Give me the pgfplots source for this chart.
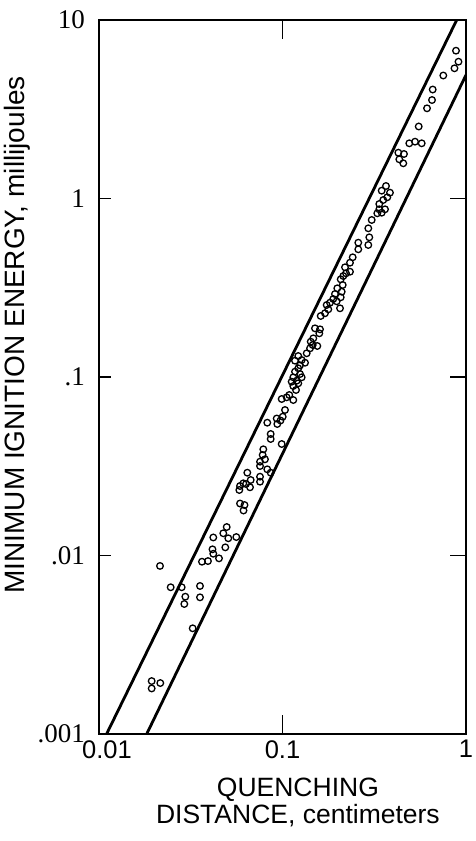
\documentclass[border=0pt]{standalone}
\usepackage{pgfplots}
\pgfplotsset{compat=1.18}
\usepackage{fontspec}
\setmainfont{Liberation Sans}
\newfontfamily\numserif{Liberation Serif}

\begin{document}
\begin{tikzpicture}
\begin{axis}[
  name=ax,
  scale only axis,
  width=367pt, height=714pt,
  xmode=log, ymode=log,
  xmin=0.01, xmax=1, ymin=0.001, ymax=10,
  xtick={0.01,0.1,1}, xticklabels={\hspace*{16pt}0.01,0.1,1},
  ytick={0.001,0.01,0.1,1,10}, yticklabels={.001,.01,.1,1,10},
  xminorticks=false, yminorticks=false,
  major tick length=0pt,
  axis line style={line width=1.8pt},
  xticklabel style={font=\fontsize{25.5}{26}\selectfont, inner sep=0pt, yshift=-6pt},
  yticklabel style={font=\numserif\fontsize{27}{28}\selectfont, inner sep=0pt, xshift=-14pt},
  xlabel={QUENCHING\\DISTANCE, centimeters},
  xlabel style={font=\fontsize{26.5}{27}\selectfont, align=center, inner sep=0pt,
                at={(axis description cs:0.542,0)}, anchor=north, yshift=-44pt},
  ylabel={MINIMUM IGNITION ENERGY, millijoules},
  ylabel style={font=\fontsize{28}{30}\selectfont, inner sep=0pt,
                at={(axis description cs:-0.2234,0.559)}, anchor=center},
  clip=true,
]
% inward tick marks on all four sides
\draw[line width=1.8pt] (axis cs:0.1,0.001) -- ++(0pt,19pt);
\draw[line width=1.8pt] (axis cs:0.1,10) -- ++(0pt,-19pt);
\draw[line width=1.8pt] (axis cs:0.01,0.01) -- ++(12pt,0pt);
\draw[line width=1.8pt] (axis cs:0.01,0.1) -- ++(12pt,0pt);
\draw[line width=1.8pt] (axis cs:0.01,1) -- ++(12pt,0pt);
\draw[line width=1.8pt] (axis cs:1,0.01) -- ++(-16pt,0pt);
\draw[line width=1.8pt] (axis cs:1,0.1) -- ++(-16pt,0pt);
\draw[line width=1.8pt] (axis cs:1,1) -- ++(-16pt,0pt);

% bounding lines of the scatter band
\addplot[black, line width=2.8pt] coordinates {(0.0110,0.001) (0.890,10)};
\addplot[black, line width=2.8pt] coordinates {(0.0182,0.001) (1,4.92)};

% measured quenching distance vs minimum ignition energy
\addplot[only marks, mark=o, mark size=3.3pt, mark options={line width=1.3pt, black}] table {
d E
0.01937 0.00198
0.01937 0.00180
0.02158 0.00193
0.0324 0.00391
0.0215 0.00874
0.02458 0.00664
0.02823 0.00664
0.02954 0.00588
0.02917 0.00535
0.03552 0.00675
0.03552 0.00583
0.03641 0.00923
0.03926 0.00931
0.04154 0.01083
0.04196 0.01023
0.04508 0.00964
0.04879 0.01111
0.04196 0.01262
0.04758 0.01332
0.05066 0.01249
0.05601 0.01269
0.04966 0.01444
0.05868 0.01956
0.06208 0.01918
0.06131 0.01787
0.05817 0.02328
0.06116 0.02538
0.06327 0.02516
0.06652 0.02411
0.05868 0.02452
0.06431 0.02910
0.06711 0.02649
0.07543 0.02764
0.07543 0.02591
0.07862 0.03936
0.07798 0.03656
0.08026 0.03459
0.07543 0.03354
0.07543 0.03172
0.08262 0.03040
0.08623 0.02910
0.09899 0.04213
0.08623 0.04794
0.08623 0.04495
0.08262 0.05546
0.09369 0.05454
0.09752 0.05706
0.09299 0.05855
0.1032 0.06534
0.1003 0.05993
0.1089 0.07929
0.1145 0.07432
0.09899 0.07530
0.1054 0.07697
0.1185 0.08457
0.1145 0.08904
0.1219 0.09220
0.1122 0.09412
0.1195 0.09535
0.1145 0.0996
0.1272 0.0996
0.1246 0.1039
0.1170 0.1071
0.1219 0.1119
0.1246 0.1163
0.1327 0.1202
0.1170 0.1234
0.1272 0.1245
0.1219 0.1311
0.1355 0.1358
0.1413 0.1448
0.1548 0.1492
0.1461 0.1511
0.1425 0.1577
0.1472 0.1647
0.1587 0.1757
0.1601 0.1850
0.1503 0.1874
0.1615 0.2197
0.1704 0.2275
0.1777 0.2395
0.2058 0.2426
0.1815 0.2608
0.1974 0.2655
0.1741 0.2532
0.1891 0.2735
0.2076 0.2796
0.1932 0.2917
0.2102 0.3005
0.1989 0.3140
0.2129 0.3277
0.2076 0.3526
0.2145 0.3680
0.2218 0.3811
0.2332 0.3890
0.2191 0.4118
0.2332 0.4368
0.2413 0.4685
0.2588 0.5656
0.2588 0.5193
0.2935 0.5490
0.2972 0.6062
0.2935 0.6809
0.3063 0.7580
0.3286 0.8262
0.3472 0.8326
0.3369 0.8700
0.3620 0.8700
0.3369 0.9316
0.3541 0.9808
0.3725 1.016
0.3853 1.078
0.3472 1.106
0.3664 1.175
0.4278 1.806
0.4592 1.776
0.4331 1.658
0.4552 1.575
0.4909 2.038
0.5275 2.081
0.5737 2.038
0.5525 2.532
0.6132 3.201
0.6528 3.562
0.6585 4.079
0.7522 4.887
0.8655 5.363
0.9101 5.840
0.8821 6.730
};
\end{axis}
\pgfresetboundingbox
\path (ax.south west) ++(-99pt,-107pt) rectangle ++(475pt,841pt);
\end{tikzpicture}
\end{document}
